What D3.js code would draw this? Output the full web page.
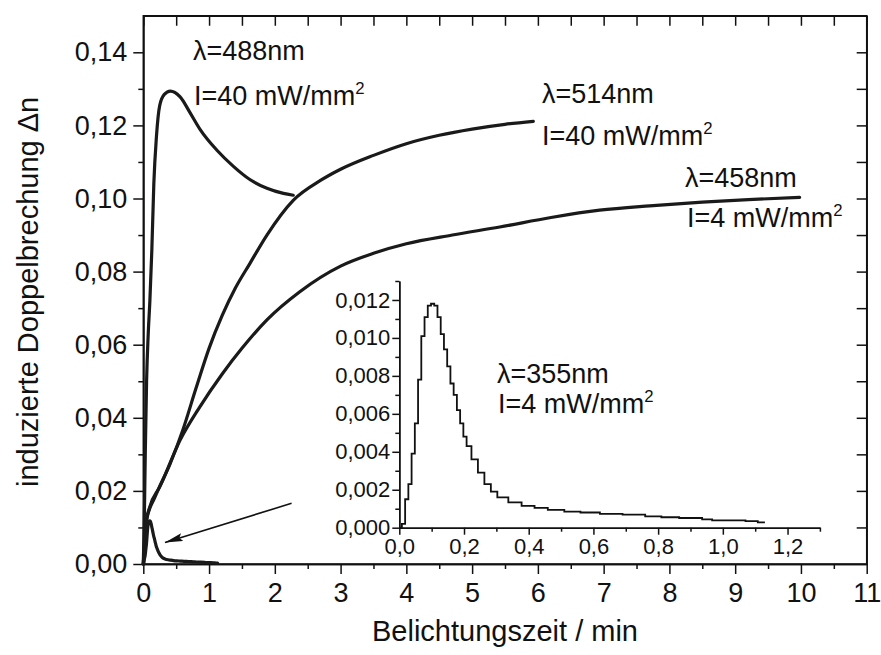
<!DOCTYPE html>
<html><head><meta charset="utf-8">
<script src="https://cdn.jsdelivr.net/npm/d3@7"></script>
<style>
body{margin:0;background:#fff}
svg text{font-family:"Liberation Sans",Arial,Helvetica,sans-serif;fill:#111}
</style>
</head><body>
<svg id="c" width="881" height="655"></svg>
<script>
// ---------- data ----------
const t488 = [0, 0.015, 0.03, 0.05, 0.075, 0.10, 0.13, 0.16, 0.20, 0.25, 0.32, 0.41, 0.56, 0.71, 0.86, 1.12, 1.37, 1.62, 1.88, 2.13, 2.28];
const v488 = [0, 0.012, 0.030, 0.050, 0.063, 0.072, 0.086, 0.104, 0.117, 0.1255, 0.1285, 0.1294, 0.1278, 0.1235, 0.1190, 0.1132, 0.1088, 0.1052, 0.1028, 0.1014, 0.1009];

const t514 = [0, 0.05, 0.18, 0.41, 0.60, 0.80, 1.0, 1.2, 1.4, 1.62, 1.88, 2.28, 2.7, 3.0, 3.5, 4.0, 4.5, 5.0, 5.5, 5.93];
const v514 = [0, 0.0120, 0.0184, 0.0275, 0.0366, 0.0480, 0.0590, 0.0680, 0.0755, 0.0822, 0.0900, 0.0995, 0.1050, 0.1080, 0.1118, 0.1150, 0.1173, 0.1190, 0.1203, 0.1211];

const t458 = [0, 0.05, 0.10, 0.25, 0.56, 0.86, 1.2, 1.5, 1.88, 2.38, 3.0, 3.5, 4.0, 4.7, 5.42, 6.2, 6.94, 7.7, 8.5, 9.2, 9.98];
const v458 = [0, 0.0120, 0.0157, 0.0211, 0.0339, 0.0430, 0.0520, 0.0590, 0.0668, 0.0745, 0.0815, 0.0850, 0.0876, 0.0900, 0.0922, 0.0948, 0.0968, 0.0980, 0.0990, 0.0997, 0.1003];

const t355 = [0, 0.008, 0.018, 0.028, 0.038, 0.048, 0.058, 0.068, 0.078, 0.088, 0.098, 0.108, 0.118, 0.128, 0.138, 0.148, 0.158, 0.168, 0.178, 0.188, 0.198, 0.208, 0.223, 0.243, 0.263, 0.283, 0.303, 0.337, 0.378, 0.418, 0.459, 0.51, 0.56, 0.62, 0.69, 0.76, 0.81, 0.865, 0.936, 0.967, 1.017, 1.07, 1.108, 1.13];
const v355 = [0, 0.0002, 0.0015, 0.0023, 0.0039, 0.0055, 0.0078, 0.0101, 0.0111, 0.0117, 0.0118, 0.0117, 0.0111, 0.0102, 0.0094, 0.0085, 0.0076, 0.0070, 0.0062, 0.0055, 0.0048, 0.0043, 0.0036, 0.0029, 0.0023, 0.0019, 0.0016, 0.00133, 0.00115, 0.00104, 0.00094, 0.00085, 0.0008, 0.00073, 0.00069, 0.0006, 0.00055, 0.00051, 0.00044, 0.00039, 0.00039, 0.00035, 0.00028, 0.00028];

// arrow annotation (data coordinates): from tail to head
const arrowFrom = [2.255, 0.0166];
const arrowTo = [0.33, 0.0059];

// ---------- tick values and labels ----------
const xMajor = [0,1,2,3,4,5,6,7,8,9,10,11];
const xMajorLabels = ["0","1","2","3","4","5","6","7","8","9","10","11"];
const xMinor = [0.5,1.5,2.5,3.5,4.5,5.5,6.5,7.5,8.5,9.5,10.5];
const xTop = [0,0.5,1,1.5,2,2.5,3,3.5,4,4.5,5,5.5,6,6.5,7,7.5,8,8.5,9,9.5,10,10.5,11];
const yMajor = [0,0.02,0.04,0.06,0.08,0.10,0.12,0.14];
const yMajorLabels = ["0,00","0,02","0,04","0,06","0,08","0,10","0,12","0,14"];
const yMinor = [0.01,0.03,0.05,0.07,0.09,0.11,0.13];
const yRight = [0.01,0.02,0.03,0.04,0.05,0.06,0.07,0.08,0.09,0.10,0.11,0.12,0.13,0.14];

const xiMajor = [0,0.2,0.4,0.6,0.8,1.0,1.2];
const xiMajorLabels = ["0,0","0,2","0,4","0,6","0,8","1,0","1,2"];
const xiMinor = [0.1,0.3,0.5,0.7,0.9,1.1,1.3];
const yiMajor = [0,0.002,0.004,0.006,0.008,0.010,0.012];
const yiMajorLabels = ["0,000","0,002","0,004","0,006","0,008","0,010","0,012"];
const yiMinor = [0.001,0.003,0.005,0.007,0.009,0.011,0.013];

const xLabel = "Belichtungszeit / min";
const yLabel = "induzierte Doppelbrechung \u0394n";

// ---------- drawing ----------
const svg = d3.select("#c");
const ink = "#111";

const x = d3.scaleLinear().domain([0, 11]).range([143.3, 866.7]);
const y = d3.scaleLinear().domain([0, 0.15]).range([564, 15.75]);

function styleAxis(g, fs){
  g.selectAll("path.domain").attr("stroke", ink).attr("stroke-width", 1.5);
  g.selectAll(".tick line").attr("stroke", ink).attr("stroke-width", 1.5);
  g.selectAll(".tick text").attr("font-size", fs).attr("font-family", null).style("fill", ink);
}

// frame
svg.append("rect")
  .attr("x", x(0)).attr("y", y(0.15))
  .attr("width", x(11) - x(0)).attr("height", y(0) - y(0.15))
  .attr("fill", "none").attr("stroke", ink).attr("stroke-width", 1.5);

// bottom
const gb = svg.append("g").attr("transform", `translate(0,${y(0)})`)
  .call(d3.axisBottom(x).tickValues(xMajor).tickFormat((d,i)=>xMajorLabels[i]).tickSize(10).tickPadding(9).tickSizeOuter(0));
styleAxis(gb, 27);
const gbm = svg.append("g").attr("transform", `translate(0,${y(0)})`)
  .call(d3.axisBottom(x).tickValues(xMinor).tickFormat("").tickSize(5).tickSizeOuter(0));
styleAxis(gbm, 27);
// top (inward ticks)
const gt = svg.append("g").attr("transform", `translate(0,${y(0.15)})`)
  .call(d3.axisBottom(x).tickValues(xTop).tickFormat("").tickSize(10).tickSizeOuter(0));
styleAxis(gt, 27);
// left
const gl = svg.append("g").attr("transform", `translate(${x(0)},0)`)
  .call(d3.axisLeft(y).tickValues(yMajor).tickFormat((d,i)=>yMajorLabels[i]).tickSize(10).tickPadding(6).tickSizeOuter(0));
styleAxis(gl, 27);
const glm = svg.append("g").attr("transform", `translate(${x(0)},0)`)
  .call(d3.axisLeft(y).tickValues(yMinor).tickFormat("").tickSize(5).tickSizeOuter(0));
styleAxis(glm, 27);
// right (inward ticks)
const gr = svg.append("g").attr("transform", `translate(${x(11)},0)`)
  .call(d3.axisLeft(y).tickValues(yRight).tickFormat("").tickSize(10).tickSizeOuter(0));
styleAxis(gr, 27);

// axis titles
svg.append("text").attr("x", (x(0)+x(11))/2).attr("y", 641)
  .attr("text-anchor", "middle").attr("font-size", 29).text(xLabel);
svg.append("text").attr("transform", `translate(38,${(y(0)+y(0.15))/2 + 2}) rotate(-90)`)
  .attr("text-anchor", "middle").attr("font-size", 29).text(yLabel);

// main curves
const zip = (a,b)=>a.map((d,i)=>[d,b[i]]);
const lineM = d3.line().x(d=>x(d[0])).y(d=>y(d[1])).curve(d3.curveMonotoneX);
const mainSeries = [zip(t488,v488), zip(t514,v514), zip(t458,v458), zip(t355,v355)];
svg.append("g").selectAll("path").data(mainSeries).join("path")
  .attr("d", lineM).attr("fill", "none").attr("stroke", "#1a1a1a")
  .attr("stroke-width", 3.2).attr("stroke-linejoin", "round").attr("stroke-linecap", "round");

// arrow
svg.append("defs").append("marker").attr("id", "ah")
  .attr("viewBox", "0 0 18 8").attr("refX", 18).attr("refY", 4)
  .attr("markerWidth", 18).attr("markerHeight", 8).attr("markerUnits", "userSpaceOnUse")
  .attr("orient", "auto")
  .append("path").attr("d", "M0,0 L18,4 L0,8 L3,4 z").attr("fill", ink);
svg.append("line")
  .attr("x1", x(arrowFrom[0])).attr("y1", y(arrowFrom[1]))
  .attr("x2", x(arrowTo[0])).attr("y2", y(arrowTo[1]))
  .attr("stroke", ink).attr("stroke-width", 1.6).attr("marker-end", "url(#ah)");

// annotation labels
function label(px, py, main, sup, fs){
  const t = svg.append("text").attr("x", px).attr("y", py).attr("font-size", fs);
  t.append("tspan").text(main);
  if (sup) t.append("tspan").attr("dy", -fs*0.42).attr("font-size", fs*0.62).text(sup);
}
label(193, 60, "\u03bb=488nm", null, 27);
label(194, 105, "I=40 mW/mm", "2", 27);
label(542, 103, "\u03bb=514nm", null, 27);
label(542, 145, "I=40 mW/mm", "2", 27);
label(685, 187, "\u03bb=458nm", null, 27);
label(687, 227, "I=4 mW/mm", "2", 27);

// ---------- inset ----------
const xi = d3.scaleLinear().domain([0, 1.3]).range([399.3, 819.9]);
const yi = d3.scaleLinear().domain([0, 0.013]).range([527.7, 281.0]);

const gib = svg.append("g").attr("transform", `translate(0,${yi(0)})`)
  .call(d3.axisBottom(xi).tickValues(xiMajor).tickFormat((d,i)=>xiMajorLabels[i]).tickSize(7).tickPadding(4).tickSizeOuter(0));
styleAxis(gib, 22);
const gibm = svg.append("g").attr("transform", `translate(0,${yi(0)})`)
  .call(d3.axisBottom(xi).tickValues(xiMinor).tickFormat("").tickSize(4).tickSizeOuter(0));
styleAxis(gibm, 22);
const gil = svg.append("g").attr("transform", `translate(${xi(0)},0)`)
  .call(d3.axisLeft(yi).tickValues(yiMajor).tickFormat((d,i)=>yiMajorLabels[i]).tickSize(7).tickPadding(2).tickSizeOuter(0));
styleAxis(gil, 22);
const gilm = svg.append("g").attr("transform", `translate(${xi(0)},0)`)
  .call(d3.axisLeft(yi).tickValues(yiMinor).tickFormat("").tickSize(4).tickSizeOuter(0));
styleAxis(gilm, 22);

const lineI = d3.line().x(d=>xi(d[0])).y(d=>yi(d[1])).curve(d3.curveStepAfter);
svg.append("path").datum(zip(t355, v355)).attr("d", lineI)
  .attr("fill", "none").attr("stroke", ink).attr("stroke-width", 1.8);

label(497, 383, "\u03bb=355nm", null, 27);
label(498, 413, "I=4 mW/mm", "2", 27);
</script>
</body></html>
